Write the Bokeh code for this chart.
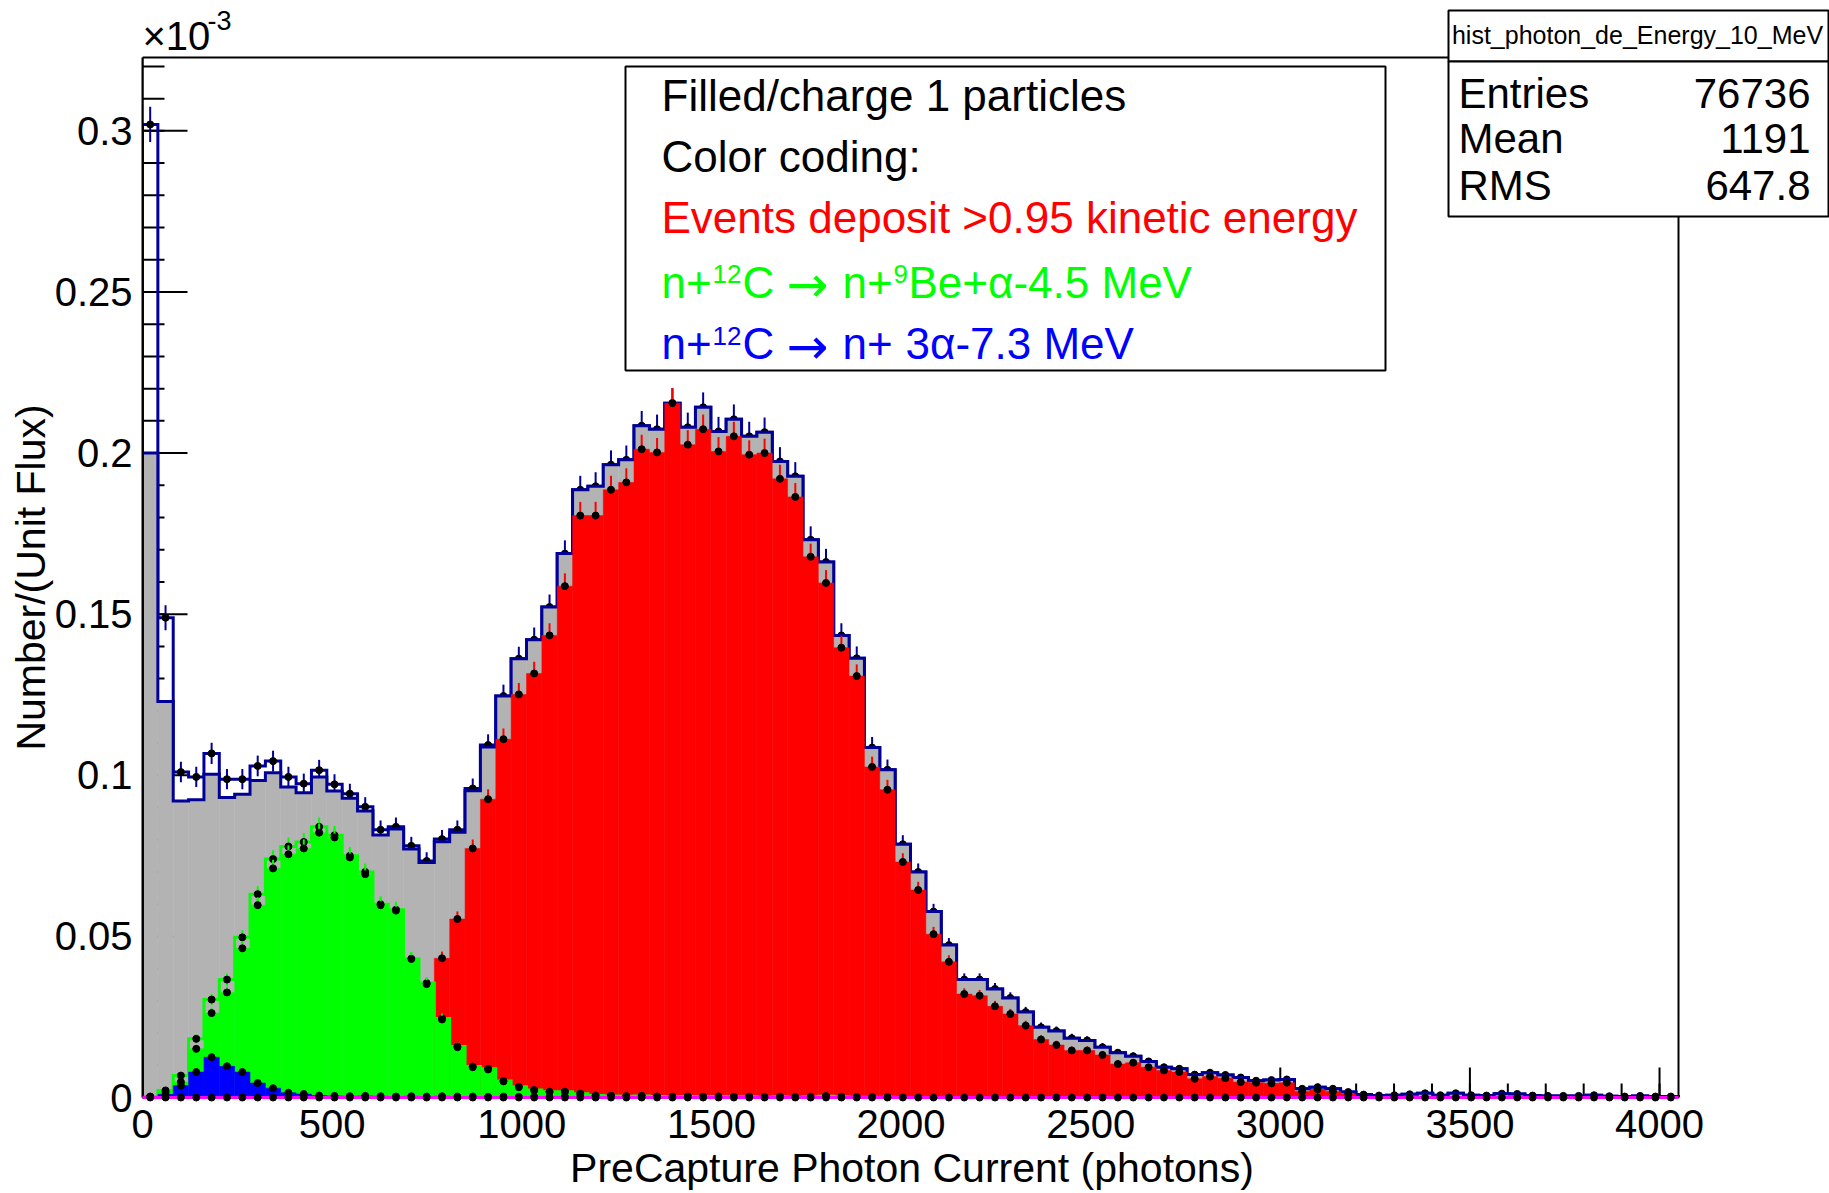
import numpy as np
from bokeh.plotting import figure
from bokeh.models import (Range1d, FixedTicker, PrintfTickFormatter, BasicTickFormatter,
                          LinearAxis, Label, BoxAnnotation)
from bokeh.embed import file_html
from bokeh.resources import INLINE

# ---------------------------------------------------------------- binning
N_BINS = 100
X_MIN, X_MAX = 0.0, 4050.0
Y_MAX = 0.3228            # in units of 1e-3

# ---------------------------------------------------------------- data (x 1e-3)
# all events (navy outline)
total = [
    0.3020, 0.1489, 0.1010, 0.0995, 0.1068, 0.0988, 0.0988, 0.1029, 0.1044, 0.0995,
    0.0974, 0.1016, 0.0972, 0.0943, 0.0902, 0.0831, 0.0840, 0.0781, 0.0734, 0.0802,
    0.0831, 0.0959, 0.1094, 0.1246, 0.1362, 0.1421, 0.1522, 0.1688, 0.1886, 0.1897,
    0.1964, 0.1979, 0.2085, 0.2074, 0.2155, 0.2080, 0.2142, 0.2067, 0.2105, 0.2052,
    0.2065, 0.1974, 0.1928, 0.1731, 0.1662, 0.1434, 0.1363, 0.1086, 0.1017, 0.0786,
    0.0700, 0.0577, 0.0473, 0.0366, 0.0366, 0.0337, 0.0309, 0.0265, 0.0218, 0.0206,
    0.0184, 0.0177, 0.0156, 0.0139, 0.0128, 0.0112, 0.0094, 0.0089, 0.0071, 0.0077,
    0.0070, 0.0062, 0.0052, 0.0054, 0.0056, 0.0027, 0.0032, 0.0027, 0.0017, 0.0009,
    0.0006, 0.0007, 0.0010, 0.0013, 0.0007, 0.0013, 0.0007, 0.0006, 0.0012, 0.0011,
    0.0006, 0.0005, 0.0005, 0.0005, 0.0007, 0.0004, 0.0003, 0.0005, 0.0003, 0.0003,
]
# filled / charge-1 particles (grey); identical to the total above bin 22
charged_low = [
    0.2000, 0.1229, 0.0920, 0.0924, 0.1003, 0.0931, 0.0941, 0.0984, 0.1008, 0.0964,
    0.0946, 0.0995, 0.0951, 0.0929, 0.0889, 0.0815, 0.0833, 0.0771, 0.0729, 0.0794,
    0.0823, 0.0952, 0.1088,
]
charged = charged_low + total[len(charged_low):]
# events depositing > 0.95 of the kinetic energy (red)
deposit = [
    0.0, 0.0, 0.0, 0.0, 0.0, 0.0, 0.0, 0.0, 0.0, 0.0,
    0.0, 0.0, 0.0, 0.0, 0.0, 0.0, 0.0, 0.0, 0.0, 0.0432,
    0.0554, 0.0773, 0.0926, 0.1112, 0.1251, 0.1316, 0.1434, 0.1587, 0.1806, 0.1806,
    0.1886, 0.1909, 0.2012, 0.2002, 0.2155, 0.2026, 0.2074, 0.2005, 0.2052, 0.1995,
    0.2000, 0.1920, 0.1864, 0.1678, 0.1597, 0.1396, 0.1308, 0.1026, 0.0955, 0.0731,
    0.0644, 0.0507, 0.0421, 0.0321, 0.0316, 0.0283, 0.0259, 0.0223, 0.0180, 0.0163,
    0.0146, 0.0146, 0.0132, 0.0104, 0.0108, 0.0094, 0.0084, 0.0079, 0.0058, 0.0065,
    0.0060, 0.0048, 0.0046, 0.0044, 0.0046, 0.0019, 0.0025, 0.0019, 0.0011, 0.0003,
    0.0, 0.0, 0.0, 0.0, 0.0, 0.0, 0.0, 0.0, 0.0, 0.0,
    0.0, 0.0, 0.0, 0.0, 0.0, 0.0, 0.0, 0.0, 0.0, 0.0,
]
# n + 12C -> n + 9Be + alpha (green, filled)
be9_alpha = [
    0.0002, 0.0017, 0.0048, 0.0151, 0.0262, 0.0326, 0.0463, 0.0597, 0.0711, 0.0755,
    0.0773, 0.0822, 0.0807, 0.0745, 0.0693, 0.0597, 0.0580, 0.0430, 0.0352, 0.0242,
    0.0156, 0.0094, 0.0087, 0.0050, 0.0032, 0.0022, 0.0017, 0.0017, 0.0011, 0.0006,
    0.0005, 0.0004, 0.0005, 0.0003, 0.0002, 0.0003, 0.0002, 0.0003, 0.0002, 0.0002,
    0.0001, 0.0002, 0.0001, 0.0002, 0.0004, 0.0002, 0.0001, 0.0001, 0.0001, 0.0,
    0.0, 0.0, 0.0, 0.0, 0.0, 0.0, 0.0, 0.0, 0.0, 0.0,
    0.0, 0.0, 0.0, 0.0, 0.0, 0.0, 0.0, 0.0, 0.0, 0.0,
    0.0, 0.0, 0.0, 0.0, 0.0, 0.0, 0.0, 0.0, 0.0, 0.0,
    0.0, 0.0, 0.0, 0.0, 0.0, 0.0, 0.0, 0.0, 0.0, 0.0,
    0.0, 0.0, 0.0, 0.0, 0.0, 0.0, 0.0, 0.0, 0.0, 0.0,
]
# same channel, all charges (green outline); equal to the filled one above bin 28
be9_alpha_all_low = [
    0.0003, 0.0022, 0.0068, 0.0182, 0.0304, 0.0366, 0.0497, 0.0631, 0.0740, 0.0779,
    0.0793, 0.0840, 0.0814, 0.0750, 0.0700, 0.0600, 0.0583, 0.0430, 0.0355, 0.0245,
    0.0158, 0.0096, 0.0089, 0.0051, 0.0033, 0.0023, 0.0018, 0.0018, 0.0012,
]
be9_alpha_all = be9_alpha_all_low + be9_alpha[len(be9_alpha_all_low):]
# n + 12C -> n + 3 alpha (blue)
three_alpha = [
    0.0001, 0.0010, 0.0037, 0.0079, 0.0125, 0.0097, 0.0079, 0.0045, 0.0029, 0.0015,
    0.0011, 0.0006, 0.0005, 0.0004, 0.0005, 0.0004, 0.0003, 0.0004, 0.0003, 0.0004,
    0.0003, 0.0003, 0.0002, 0.0003, 0.0002, 0.0002, 0.0001, 0.0002, 0.0001, 0.0001,
] + [0.0] * 70
# remaining channel (magenta), empty everywhere
other = [0.0] * N_BINS

# axis ticks
x_major = list(range(0, 4001, 500))
x_minor = list(range(0, 4001, 100))
y_major = [round(0.05 * i, 2) for i in range(7)]
y_minor = [round(0.01 * i, 2) for i in range(33)]

# statistics box
stat_name = "hist_photon_de_Energy_10_MeV"
stat_rows = [("Entries", "76736"), ("Mean", "1191"), ("RMS", "647.8")]

# entries per unit of the y quantity, used for the sqrt(N) error bars
COUNTS_PER_UNIT = 10000.0

NAVY = "#000099"
GREY = "#b3b3b3"
RED = "#ff0000"
GREEN = "#00ff00"
BLUE = "#0000ff"
MAGENTA = "#ff00ff"
FONT = "Liberation Sans"
ARROW_FONT = "DejaVu Sans"

edges = np.linspace(X_MIN, X_MAX, N_BINS + 1)
centers = 0.5 * (edges[:-1] + edges[1:])

# ---------------------------------------------------------------- canvas geometry
W, H = 1829, 1193
FRAME_LEFT, FRAME_RIGHT, FRAME_TOP, FRAME_BOTTOM = 142, 1678, 57, 1099
PX_PER_X = (FRAME_RIGHT - FRAME_LEFT) / (X_MAX - X_MIN)
PX_PER_Y = (FRAME_BOTTOM - FRAME_TOP) / Y_MAX
# the drawing area runs on to the right and top edges of the page so that the
# statistics box and the exponent can sit outside the histogram frame
X_END = X_MIN + (W - FRAME_LEFT) / PX_PER_X
Y_END = FRAME_BOTTOM / PX_PER_Y

p = figure(width=W, height=H, output_backend="svg", toolbar_location=None,
           x_range=Range1d(X_MIN, X_END), y_range=Range1d(0, Y_END),
           x_axis_location=None, y_axis_location=None,
           min_border_left=FRAME_LEFT, min_border_right=0,
           min_border_top=0, min_border_bottom=H - FRAME_BOTTOM)
p.grid.visible = False
p.outline_line_color = None
p.background_fill_color = "white"
p.border_fill_color = "white"

TITLE_SIZE = 41
NBSP = "\u00a0"
NBSP_EM = 0.278


def pad_for_center(title, panel_center, wanted_center):
    # axis titles are centred on the whole axis panel; trailing no-break
    # spaces move the visible words onto the centre of the histogram frame
    n = int(round(2 * abs(panel_center - wanted_center) / (NBSP_EM * TITLE_SIZE)))
    return title + NBSP * n


def label_axis(ticks, bounds, title, fmt, standoff, title_standoff):
    return LinearAxis(ticker=FixedTicker(ticks=ticks), formatter=fmt, bounds=bounds,
                      axis_label=title, axis_line_color="black", axis_line_width=2,
                      major_tick_in=0, major_tick_out=0, minor_tick_in=0, minor_tick_out=0,
                      major_label_text_font=FONT, major_label_text_font_size="40px",
                      major_label_text_color="black", major_label_standoff=standoff,
                      axis_label_text_font=FONT, axis_label_text_font_size=f"{TITLE_SIZE}px",
                      axis_label_text_font_style="normal", axis_label_text_color="black",
                      axis_label_standoff=title_standoff)


x_title = pad_for_center("PreCapture Photon Current (photons)",
                         (FRAME_LEFT + W) / 2, (FRAME_LEFT + FRAME_RIGHT) / 2)
y_title = pad_for_center("Number/(Unit Flux)",
                         FRAME_BOTTOM / 2, (FRAME_TOP + FRAME_BOTTOM) / 2)
p.add_layout(label_axis(x_major, (X_MIN, X_MAX), x_title,
                        BasicTickFormatter(), 12, 4), "below")
p.add_layout(label_axis(y_major, (0, Y_MAX), y_title,
                        PrintfTickFormatter(format="%g"), 10, -2), "left")


# tick marks pointing into the frame, painted underneath the histograms
def ticks_x(vals, length_px):
    p.segment(x0=vals, y0=0, x1=vals, y1=length_px / PX_PER_Y,
              line_color="black", line_width=2, level="underlay")


def ticks_y(vals, length_px):
    p.segment(x0=X_MIN, y0=vals, x1=X_MIN + length_px / PX_PER_X, y1=vals,
              line_color="black", line_width=2, level="underlay")


ticks_x(x_minor, 14)
ticks_x(x_major, 30)
ticks_y(y_minor, 22)
ticks_y(y_major, 45)


def outline(vals, color, width, level="glyph"):
    v = np.asarray(vals, dtype=float)
    xs = np.concatenate([[edges[0]], np.repeat(edges, 2)[1:-1], [edges[-1]]])
    ys = np.concatenate([[0.0], np.repeat(v, 2), [0.0]])
    p.line(xs, ys, line_color=color, line_width=width, line_join="miter", level=level)


def filled(vals, color):
    p.quad(left=edges[:-1], right=edges[1:], bottom=0, top=vals,
           fill_color=color, line_color=color, line_width=0.5)


def errors(vals, color, only_filled=True, level="glyph"):
    v = np.asarray(vals, dtype=float)
    err = np.sqrt(v / COUNTS_PER_UNIT)
    m = v > 0 if only_filled else np.ones_like(v, dtype=bool)
    p.segment(x0=centers[m], y0=(v - err)[m], x1=centers[m], y1=(v + err)[m],
              line_color=color, line_width=2, level=level)
    p.scatter(centers[m], v[m], size=7, marker="circle",
              fill_color="black", line_color="black", level=level)


# total (outline only)
outline(total, NAVY, 3)
errors(total, NAVY)
# filled / charge-1 particles
filled(charged, GREY)
outline(charged, NAVY, 3)
# full kinetic energy deposit
filled(deposit, RED)
errors(deposit, RED)
# 9Be + alpha channel
outline(be9_alpha_all, GREEN, 3)
errors(be9_alpha_all, GREEN)
filled(be9_alpha, GREEN)
errors(be9_alpha, GREEN)
# 3 alpha channel
filled(three_alpha, BLUE)
errors(three_alpha, BLUE)

# histogram frame (top and right sides; left and bottom come from the axes)
p.add_layout(BoxAnnotation(left=X_MIN, right=X_MAX, bottom=0, top=Y_MAX,
                           fill_color=None, line_color="black", line_width=2,
                           line_alpha=1.0, level="annotation"))

# remaining channel, lying on the x axis line
outline(other, MAGENTA, 3, level="overlay")
errors(other, MAGENTA, only_filled=False, level="overlay")


def page(cx, cy):
    """canvas pixel position -> frame-relative screen units"""
    return cx - FRAME_LEFT, FRAME_BOTTOM - cy


def box(cx0, cy0, cx1, cy1):
    l, t = page(cx0, cy0)
    r, b = page(cx1, cy1)
    p.add_layout(BoxAnnotation(left=l, right=r, top=t, bottom=b,
                               left_units="screen", right_units="screen",
                               top_units="screen", bottom_units="screen",
                               fill_color="white", fill_alpha=1.0,
                               line_color="black", line_width=2, line_alpha=1.0,
                               level="annotation"))


def text(cx, cy, s, size, color="black", align="left", font=FONT):
    x, y = page(cx, cy)
    p.add_layout(Label(x=x, y=y, x_units="screen", y_units="screen", text=s,
                       text_font=font, text_font_size=f"{size}px",
                       text_color=color, text_align=align, text_baseline="middle"))


# exponent of the y axis
text(142, 37, "\u00d710", 40)
text(207, 22, "-3", 27)

# colour-coding note
NOTE_SIZE, SUP_SIZE, SUP_RISE = 44, 26, 8
box(625, 68, 1385, 372)
note_rows = [97, 158, 218.5, 283.5, 345]
text(661, note_rows[0], "Filled/charge 1 particles", NOTE_SIZE)
text(661, note_rows[1], "Color coding:", NOTE_SIZE)
text(661, note_rows[2], "Events deposit >0.95 kinetic energy", NOTE_SIZE, color=RED)
# reaction lines, written piecewise for the raised mass numbers
reactions = [
    (note_rows[3], GREEN, [("n+", 661, False), ("12", 712, True), ("C", 742, False),
                           ("\u2192", 786, None), ("n+", 842, False), ("9", 893, True),
                           ("Be+\u03b1-4.5 MeV", 908, False)]),
    (note_rows[4], BLUE, [("n+", 661, False), ("12", 712, True), ("C", 742, False),
                          ("\u2192", 786, None), ("n+", 842, False),
                          ("3\u03b1-7.3 MeV", 905, False)]),
]
for cy, color, parts in reactions:
    for s, cx, sup in parts:
        if sup is None:
            text(cx, cy + 3, s, 50, color=color, font=ARROW_FONT)
        elif sup:
            text(cx, cy - SUP_RISE, s, SUP_SIZE, color=color)
        else:
            text(cx, cy, s, NOTE_SIZE, color=color)

# statistics box
box(1448, 12, 1828, 63)
box(1448, 63, 1828, 218)
text(1637, 36, stat_name, 25, align="center")
for cy, (k, v) in zip([95, 140, 187], stat_rows):
    text(1458, cy, k, 42)
    text(1810, cy, v, 42, align="right")

open("out.html", "w").write(file_html(p, INLINE))
